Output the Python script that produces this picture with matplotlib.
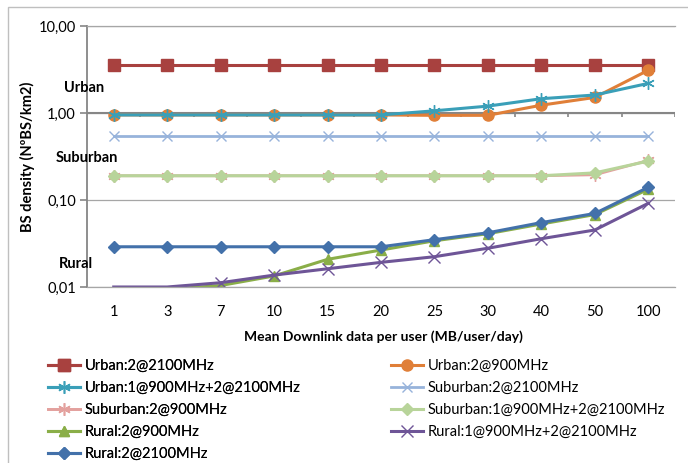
import matplotlib
matplotlib.use("Agg")
import matplotlib.pyplot as plt
from matplotlib.ticker import FixedLocator, NullLocator, FixedFormatter
from matplotlib.patches import Rectangle

plt.rcParams["font.family"] = ["Lato", "DejaVu Sans"]

# categories (MB/user/day)
categories = ["1", "3", "7", "10", "15", "20", "25", "30", "40", "50", "100"]

urban_2100 = [3.55, 3.55, 3.55, 3.55, 3.55, 3.55, 3.55, 3.55, 3.55, 3.55, 3.55]
urban_900 = [0.95, 0.95, 0.95, 0.95, 0.95, 0.95, 0.94, 0.94, 1.23, 1.51, 3.1]
urban_mix = [0.95, 0.95, 0.95, 0.95, 0.95, 0.95, 1.06, 1.20, 1.46, 1.61, 2.19]
suburban_2100 = [0.55, 0.55, 0.55, 0.55, 0.55, 0.55, 0.55, 0.55, 0.55, 0.55, 0.55]
suburban_900 = [0.19, 0.19, 0.19, 0.19, 0.19, 0.19, 0.19, 0.19, 0.19, 0.195, 0.285]
suburban_mix = [0.19, 0.19, 0.19, 0.19, 0.19, 0.19, 0.19, 0.19, 0.19, 0.205, 0.28]
rural_900 = [0.009, 0.0094, 0.0104, 0.0134, 0.0208, 0.0266, 0.034, 0.041, 0.053, 0.068, 0.133]
rural_mix = [0.010, 0.010, 0.0112, 0.0137, 0.0162, 0.0192, 0.0223, 0.0279, 0.0359, 0.0452, 0.0916]
rural_2100 = [0.029, 0.029, 0.029, 0.029, 0.029, 0.029, 0.035, 0.042, 0.055, 0.070, 0.140]

y_ticks = [0.01, 0.1, 1, 10]
y_tick_labels = ["0,01", "0,10", "1,00", "10,00"]

ASTER = (6, 2, 0)
# label, values, colour, marker, marker size, line width
SERIES = [
    ("Urban:2@2100MHz", urban_2100, "#A8413F", "s", 8, 2.2),
    ("Urban:2@900MHz", urban_900, "#E07F38", "o", 8, 2.2),
    ("Urban:1@900MHz+2@2100MHz", urban_mix, "#3A9FB8", ASTER, 9, 2.2),
    ("Suburban:2@2100MHz", suburban_2100, "#97B3DB", "x", 7, 2.0),
    ("Suburban:2@900MHz", suburban_900, "#E3A19E", ASTER, 9, 2.0),
    ("Suburban:1@900MHz+2@2100MHz", suburban_mix, "#B8D49A", "D", 6, 2.2),
    ("Rural:2@900MHz", rural_900, "#8AAE48", "^", 7, 2.2),
    ("Rural:1@900MHz+2@2100MHz", rural_mix, "#6E5597", "x", 8, 2.2),
    ("Rural:2@2100MHz", rural_2100, "#4371AA", "D", 6, 2.2),
]

W, H = 688, 463
fig = plt.figure(figsize=(W / 100, H / 100), dpi=100)
ax = fig.add_axes([87 / W, 1 - 287 / H, (675 - 87) / W, (287 - 26) / H])

x = list(range(len(categories)))
handles = []
for label, vals, color, marker, ms, lw in SERIES:
    # no markers on points sitting on the lower bound of the axis
    shown = [i for i, v in enumerate(vals) if v > 0.0101]
    h, = ax.plot(x, vals, color=color, lw=lw, marker=marker, ms=ms,
                 mec=color, mfc=color, mew=1.0, markevery=shown,
                 label=label)
    handles.append(h)

ax.set_yscale("log")
ax.set_ylim(0.01, 10)
ax.set_xlim(-0.5, len(categories) - 0.5)
ax.yaxis.set_major_locator(FixedLocator(y_ticks))
ax.yaxis.set_major_formatter(FixedFormatter(y_tick_labels))
ax.yaxis.set_minor_locator(NullLocator())
ax.set_xticks(x)
ax.set_xticklabels(categories)
ax.tick_params(axis="x", length=0, pad=13, labelsize=10.5, colors="#000000")
ax.tick_params(axis="y", length=5, width=1.2, color="#868686", labelsize=10.5, pad=3)

ax.spines["right"].set_visible(False)
for s in ("top", "bottom"):
    ax.spines[s].set_color("#A6A6A6")
    ax.spines[s].set_linewidth(0.9)
ax.spines["left"].set_color("#868686")
ax.spines["left"].set_linewidth(1.3)
ax.grid(axis="y", color="#A6A6A6", lw=0.9)
ax.set_axisbelow(True)

# horizontal axis crossing at 1,00 with tick marks between categories
ax.axhline(1, color="#868686", lw=1.5, zorder=1.5)
bounds = [i - 0.5 for i in range(len(categories) + 1)]
ax.vlines(bounds[1:], 0.905, 1, color="#868686", lw=1.2, zorder=1.5)

fig.text(27 / W, 1 - 157 / H, "BS density (NºBS/km2)", rotation=90,
         ha="center", va="center", fontsize=10.5, fontweight="bold")
fig.text(383 / W, 1 - 337 / H, "Mean Downlink data per user (MB/user/day)",
         ha="center", va="center", fontsize=10, fontweight="bold")

fig.text(84 / W, 1 - 88 / H, "Urban", ha="center", va="center",
         fontsize=10.5, fontweight="bold")
fig.text(87 / W, 1 - 158 / H, "Suburban", ha="center", va="center",
         fontsize=10.5, fontweight="bold")
fig.text(76 / W, 1 - 264 / H, "Rural", ha="center", va="center",
         fontsize=10.5, fontweight="bold")

left = [handles[i] for i in (0, 2, 4, 6, 8)]
right = [handles[i] for i in (1, 3, 5, 7)]
kw = dict(frameon=False, fontsize=10.5, handlelength=2.2, handletextpad=0.3,
          labelspacing=0.55, borderpad=0, borderaxespad=0, loc="upper left")
leg1 = fig.legend(handles=left, bbox_to_anchor=(48 / W, 1 - 359 / H), **kw)
fig.add_artist(leg1)
fig.legend(handles=right, bbox_to_anchor=(391 / W, 1 - 359 / H), **kw)

fig.add_artist(Rectangle((8 / W, -0.05), 1.0, 1 - 7 / H + 0.05,
                         transform=fig.transFigure, fill=False,
                         ec="#BFBFBF", lw=1.0))

fig.savefig("out.png", dpi=100)
